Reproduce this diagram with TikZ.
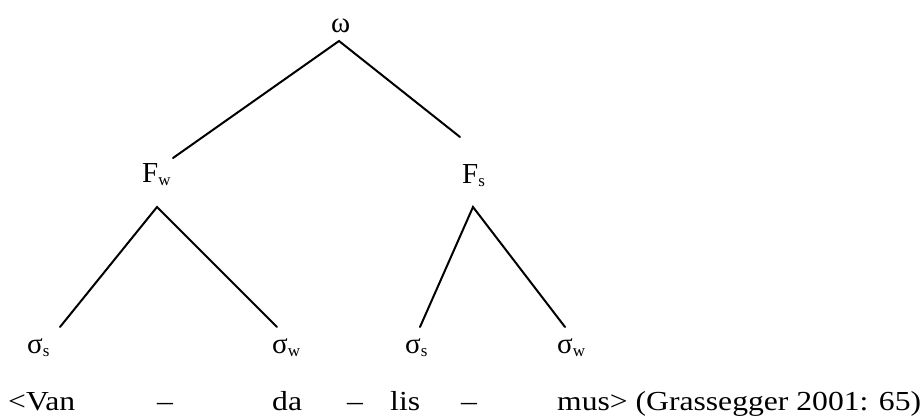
\documentclass[tikz,border=0pt]{standalone}
\usepackage{fontspec}
\setmainfont{Liberation Serif}
\newcommand{\subs}[1]{\raisebox{-3pt}{\fontsize{17}{17}\selectfont #1}}
\begin{document}
\begin{tikzpicture}[x=1pt,y=-1pt,
  lbl/.style={inner sep=0pt, anchor=base west, font=\fontsize{29}{32}\selectfont},
  word/.style={inner sep=0pt, anchor=base west, font=\fontsize{27.5}{30}\selectfont, xscale=1.15},
  edge/.style={line width=2pt, line cap=round}]
\useasboundingbox (0,0) rectangle (920,415);
% labels
\node[lbl] (omega) at (331,32) {ω};
\node[lbl] (Fw) at (142,182) {F\subs{w}};
\node[lbl] (Fs) at (462,183) {F\subs{s}};
\node[lbl] (s1) at (27,353) {σ\subs{s}};
\node[lbl] (w1) at (272,353) {σ\subs{w}};
\node[lbl] (s2) at (405,353) {σ\subs{s}};
\node[lbl] (w2) at (557,353) {σ\subs{w}};
% connector ends
\coordinate (omegaB) at (339,41);
\coordinate (FwT) at (173,158);
\coordinate (FsT) at (460,137);
\coordinate (FwB) at (157,207);
\coordinate (FsB) at (473,207);
\coordinate (s1T) at (60,327);
\coordinate (w1T) at (277,327);
\coordinate (s2T) at (420,327);
\coordinate (w2T) at (565,327);
\draw[edge] (FwT) -- (omegaB) -- (FsT);
\draw[edge] (s1T) -- (FwB) -- (w1T);
\draw[edge] (s2T) -- (FsB) -- (w2T);
% bottom line
\node[word] (v) at (8,410) {<Van};
\node[word] (d1) at (157,410) {–};
\node[word] (da) at (272,410) {da};
\node[word] (d2) at (347,410) {–};
\node[word] (lis) at (390,410) {lis};
\node[word] (d3) at (461,410) {–};
\node[word] (mus) at (557,410) {mus> (Grassegger 2001: 65)};
\end{tikzpicture}
\end{document}
